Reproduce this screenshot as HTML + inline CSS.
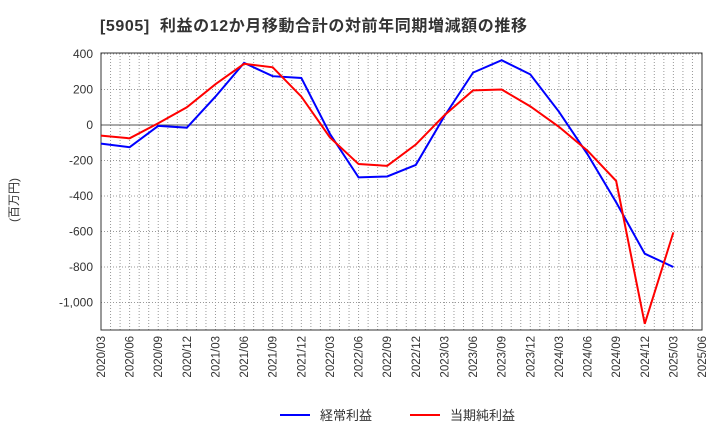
<!DOCTYPE html>
<html><head><meta charset="utf-8"><style>
body{margin:0;background:#fff;font-family:"Liberation Sans","Noto Sans CJK JP",sans-serif;}
</style></head><body>
<svg id="c" width="720" height="440" xmlns="http://www.w3.org/2000/svg">
<text x="100" y="31" font-size="16" font-weight="bold" fill="#333" textLength="427" lengthAdjust="spacing" xml:space="preserve">[5905]  利益の12か月移動合計の対前年同期増減額の推移</text>
<text transform="translate(18,200) rotate(-90)" font-size="12" fill="#333" text-anchor="middle">(百万円)</text>
<g id="grid"></g><g id="axes"></g><g id="series"></g>
<g>
<line x1="280" y1="415" x2="310" y2="415" stroke="#0000ff" stroke-width="2"/>
<text x="320" y="420" font-size="13" fill="#333">経常利益</text>
<line x1="410" y1="415" x2="440" y2="415" stroke="#ff0000" stroke-width="2"/>
<text x="450" y="420" font-size="13" fill="#333">当期純利益</text>
</g>
</svg>
<script>
const categories=["2020/03","2020/06","2020/09","2020/12","2021/03","2021/06","2021/09","2021/12","2022/03","2022/06","2022/09","2022/12","2023/03","2023/06","2023/09","2023/12","2024/03","2024/06","2024/09","2024/12","2025/03","2025/06"];
const keijo=[-105,-125,-5,-15,160,350,275,265,-50,-295,-290,-225,50,295,365,285,75,-165,-435,-725,-800];
const junri=[-60,-75,10,100,230,345,325,160,-70,-220,-230,-110,55,195,200,105,-10,-145,-315,-1120,-605];
const yTicks=[400,200,0,-200,-400,-600,-800,-1000];
const yTickLabels=["400","200","0","-200","-400","-600","-800","-1,000"];
const X0=101,X1=702,Y0=53,Y1=330;
const xs=i=>X0+(X1-X0)*i/(categories.length-1);
const ys=v=>125-v*(35.5/200);
const NS="http://www.w3.org/2000/svg";
function mk(p,t,a){const e=document.createElementNS(NS,t);for(const k in a)e.setAttribute(k,a[k]);p.appendChild(e);return e;}
const g=document.getElementById('grid'),ax=document.getElementById('axes'),s=document.getElementById('series');
const n=(categories.length-1)*3;
for(let m=1;m<n;m++){const x=X0+(X1-X0)*m/n;const l=mk(g,'line',{x1:x,x2:x,y1:Y0,y2:Y1,stroke:'#999','stroke-dasharray':'1,2','stroke-width':1});

}
yTicks.forEach((v,i)=>{const y=ys(v);const l=mk(g,'line',{x1:X0,x2:X1,y1:y,y2:y,stroke:v===0?'#555':'#999','stroke-dasharray':v===0?'':'1,2','stroke-width':1});


const t=mk(ax,'text',{x:X0-8,y:y+4,'font-size':12,fill:'#333','text-anchor':'end'});t.textContent=yTickLabels[i];

});
const r=mk(ax,'rect',{x:X0,y:Y0,width:X1-X0,height:Y1-Y0,fill:'none',stroke:'#333','stroke-width':1});


categories.forEach((c,i)=>{const x=xs(i);const t=mk(ax,'text',{transform:`translate(${x+4},${Y1+6}) rotate(-90)`,'font-size':11.5,fill:'#333','text-anchor':'end'});t.textContent=c;

});
function line(d,col,name){const p=mk(s,'polyline',{points:d.map((v,i)=>xs(i)+','+ys(v)).join(' '),fill:'none',stroke:col,'stroke-width':2});

}
line(keijo,'#0000ff','keijo-line');
line(junri,'#ff0000','junri-line');
</script>
</body></html>
